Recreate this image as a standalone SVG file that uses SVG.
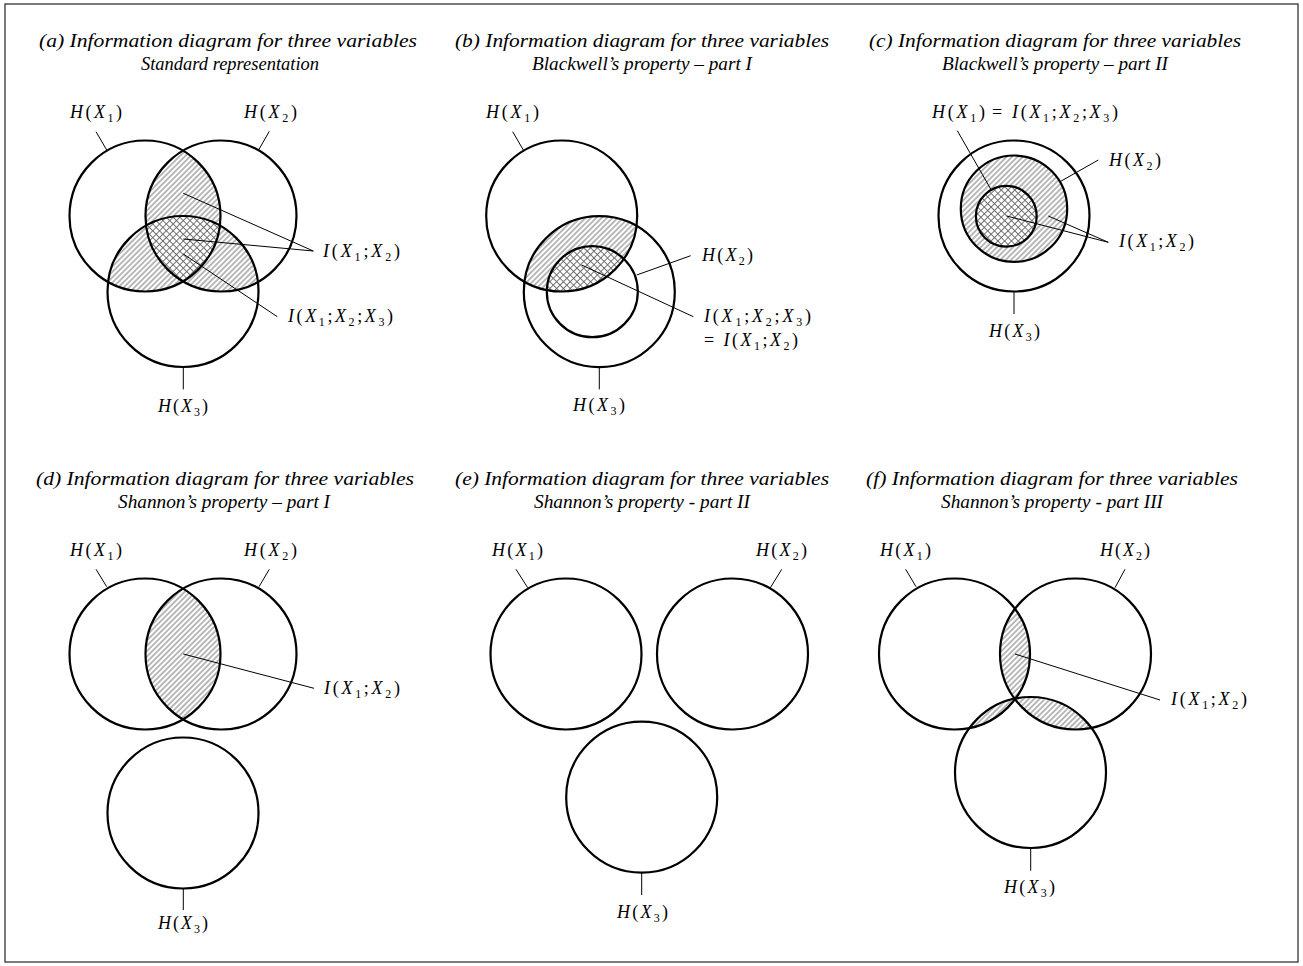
<svg xmlns="http://www.w3.org/2000/svg" width="1303" height="966" viewBox="0 0 1303 966">
<style>
.frame{fill:#fff;stroke:#333;stroke-width:1.3}
.c{fill:none;stroke:#000;stroke-width:2.2}
.h{fill:url(#hatch);stroke:none}
.x{fill:url(#cross);stroke:none}
.t{font-family:"Liberation Serif","Times New Roman",serif;font-style:italic;font-size:19px;fill:#000;text-anchor:middle}
.m{font-family:"Liberation Serif","Times New Roman",serif;font-style:italic;font-size:18px;fill:#000}
.r{font-style:normal}
.s{font-style:normal;font-size:12px}
#leaders line{stroke:#000;stroke-width:1}
</style>
<defs>
<pattern id="hatch" patternUnits="userSpaceOnUse" width="3.8" height="3.8" patternTransform="rotate(45)">
<rect width="3.8" height="3.8" fill="#fff"/>
<line x1="1.9" y1="0" x2="1.9" y2="3.8" stroke="#666" stroke-width="0.9"/>
</pattern>
<pattern id="cross" patternUnits="userSpaceOnUse" width="4.8" height="4.8" patternTransform="rotate(45)">
<rect width="4.8" height="4.8" fill="#fff"/>
<line x1="2.4" y1="0" x2="2.4" y2="4.8" stroke="#666" stroke-width="0.9"/>
<line x1="0" y1="2.4" x2="4.8" y2="2.4" stroke="#666" stroke-width="0.9"/>
</pattern>
<clipPath id="ca1"><circle cx="145" cy="216" r="75.5"/></clipPath>
<clipPath id="ca2"><circle cx="221" cy="216" r="75.5"/></clipPath>
<clipPath id="cb1"><circle cx="561.7" cy="216" r="75.5"/></clipPath>
<clipPath id="cd1"><circle cx="145" cy="654" r="75.5"/></clipPath>
<clipPath id="cf1"><circle cx="954.5" cy="654" r="75.5"/></clipPath>
<clipPath id="cf2"><circle cx="1075.5" cy="654" r="75.5"/></clipPath>
</defs>
<rect class="frame" x="5" y="4" width="1293" height="958"/>

<!-- Titles -->
<g id="titles">
<text class="t" x="228" y="47" textLength="378" lengthAdjust="spacingAndGlyphs">(a) Information diagram for three variables</text>
<text class="t" x="230" y="70" textLength="178" lengthAdjust="spacingAndGlyphs">Standard representation</text>
<text class="t" x="642" y="47" textLength="374" lengthAdjust="spacingAndGlyphs">(b) Information diagram for three variables</text>
<text class="t" x="642" y="70" textLength="220" lengthAdjust="spacingAndGlyphs">Blackwell’s property – part I</text>
<text class="t" x="1055" y="47" textLength="372" lengthAdjust="spacingAndGlyphs">(c) Information diagram for three variables</text>
<text class="t" x="1055" y="70" textLength="226" lengthAdjust="spacingAndGlyphs">Blackwell’s property – part II</text>
<text class="t" x="225" y="485" textLength="378" lengthAdjust="spacingAndGlyphs">(d) Information diagram for three variables</text>
<text class="t" x="224" y="508" textLength="212" lengthAdjust="spacingAndGlyphs">Shannon’s property – part I</text>
<text class="t" x="642" y="485" textLength="374" lengthAdjust="spacingAndGlyphs">(e) Information diagram for three variables</text>
<text class="t" x="642" y="508" textLength="216" lengthAdjust="spacingAndGlyphs">Shannon’s property - part II</text>
<text class="t" x="1052" y="485" textLength="372" lengthAdjust="spacingAndGlyphs">(f) Information diagram for three variables</text>
<text class="t" x="1052" y="508" textLength="222" lengthAdjust="spacingAndGlyphs">Shannon’s property - part III</text>
</g>

<!-- Panel a -->
<g id="panel-a">
<g id="a-shading">
<circle class="h" cx="221" cy="216" r="75.5" clip-path="url(#ca1)"/>
<circle class="h" cx="183" cy="291.5" r="75.5" clip-path="url(#ca1)"/>
<circle class="h" cx="183" cy="291.5" r="75.5" clip-path="url(#ca2)"/>
<g clip-path="url(#ca1)"><circle class="x" cx="183" cy="291.5" r="75.5" clip-path="url(#ca2)"/></g>
</g>
<g id="a-H1"><circle class="c" cx="145" cy="216" r="75.5"/>
<text class="m" x="70" y="118" textLength="52">H<tspan class="r">(</tspan>X<tspan class="s" dy="4">1</tspan><tspan class="r" dy="-4">)</tspan></text></g>
<g id="a-H2"><circle class="c" cx="221" cy="216" r="75.5"/>
<text class="m" x="244" y="118" textLength="53">H<tspan class="r">(</tspan>X<tspan class="s" dy="4">2</tspan><tspan class="r" dy="-4">)</tspan></text></g>
<g id="a-H3"><circle class="c" cx="183" cy="291.5" r="75.5"/>
<text class="m" x="158" y="412" textLength="50">H<tspan class="r">(</tspan>X<tspan class="s" dy="4">3</tspan><tspan class="r" dy="-4">)</tspan></text></g>
<g id="a-I12"><text class="m" x="323" y="257" textLength="77">I<tspan class="r">(</tspan>X<tspan class="s" dy="4">1</tspan><tspan class="r" dy="-4">;</tspan>X<tspan class="s" dy="4">2</tspan><tspan class="r" dy="-4">)</tspan></text></g>
<g id="a-I123"><text class="m" x="288" y="322" textLength="105">I<tspan class="r">(</tspan>X<tspan class="s" dy="4">1</tspan><tspan class="r" dy="-4">;</tspan>X<tspan class="s" dy="4">2</tspan><tspan class="r" dy="-4">;</tspan>X<tspan class="s" dy="4">3</tspan><tspan class="r" dy="-4">)</tspan></text></g>
</g>

<!-- Panel b -->
<g id="panel-b">
<g id="b-shading">
<circle class="h" cx="599.3" cy="291.7" r="75.5" clip-path="url(#cb1)"/>
<circle class="x" cx="592.3" cy="291.7" r="45.5" clip-path="url(#cb1)"/>
</g>
<g id="b-H1"><circle class="c" cx="561.7" cy="216" r="75.5"/>
<text class="m" x="486" y="118" textLength="53">H<tspan class="r">(</tspan>X<tspan class="s" dy="4">1</tspan><tspan class="r" dy="-4">)</tspan></text></g>
<g id="b-H3"><circle class="c" cx="599.3" cy="291.7" r="75.5"/>
<text class="m" x="573" y="411" textLength="52">H<tspan class="r">(</tspan>X<tspan class="s" dy="4">3</tspan><tspan class="r" dy="-4">)</tspan></text></g>
<g id="b-H2"><circle class="c" cx="592.3" cy="291.7" r="45.5"/>
<text class="m" x="702" y="261" textLength="51">H<tspan class="r">(</tspan>X<tspan class="s" dy="4">2</tspan><tspan class="r" dy="-4">)</tspan></text></g>
<g id="b-I"><text class="m" x="704" y="322" textLength="107">I<tspan class="r">(</tspan>X<tspan class="s" dy="4">1</tspan><tspan class="r" dy="-4">;</tspan>X<tspan class="s" dy="4">2</tspan><tspan class="r" dy="-4">;</tspan>X<tspan class="s" dy="4">3</tspan><tspan class="r" dy="-4">)</tspan></text>
<text class="m" x="704" y="346" textLength="94"><tspan class="r">=</tspan> I<tspan class="r">(</tspan>X<tspan class="s" dy="4">1</tspan><tspan class="r" dy="-4">;</tspan>X<tspan class="s" dy="4">2</tspan><tspan class="r" dy="-4">)</tspan></text></g>
</g>

<!-- Panel c -->
<g id="panel-c">
<g id="c-H3"><circle class="c" cx="1014" cy="216" r="75.5"/>
<text class="m" x="989" y="337" textLength="51">H<tspan class="r">(</tspan>X<tspan class="s" dy="4">3</tspan><tspan class="r" dy="-4">)</tspan></text></g>
<g id="c-H2"><circle class="h" cx="1014" cy="208.7" r="53.2"/><circle class="c" cx="1014" cy="208.7" r="53.2"/>
<text class="m" x="1109" y="166" textLength="52">H<tspan class="r">(</tspan>X<tspan class="s" dy="4">2</tspan><tspan class="r" dy="-4">)</tspan></text></g>
<g id="c-H1"><circle class="x" cx="1006.3" cy="216.2" r="30.4"/><circle class="c" cx="1006.3" cy="216.2" r="30.4"/>
<text class="m" x="932" y="118" textLength="53">H<tspan class="r">(</tspan>X<tspan class="s" dy="4">1</tspan><tspan class="r" dy="-4">)</tspan></text>
<text class="m" x="992" y="118" textLength="126"><tspan class="r">=</tspan> I<tspan class="r">(</tspan>X<tspan class="s" dy="4">1</tspan><tspan class="r" dy="-4">;</tspan>X<tspan class="s" dy="4">2</tspan><tspan class="r" dy="-4">;</tspan>X<tspan class="s" dy="4">3</tspan><tspan class="r" dy="-4">)</tspan></text></g>
<g id="c-I12"><text class="m" x="1119" y="247" textLength="75">I<tspan class="r">(</tspan>X<tspan class="s" dy="4">1</tspan><tspan class="r" dy="-4">;</tspan>X<tspan class="s" dy="4">2</tspan><tspan class="r" dy="-4">)</tspan></text></g>
</g>

<!-- Panel d -->
<g id="panel-d">
<g id="d-shading"><circle class="h" cx="221" cy="654" r="75.5" clip-path="url(#cd1)"/></g>
<g id="d-H1"><circle class="c" cx="145" cy="654" r="75.5"/>
<text class="m" x="70" y="556" textLength="52">H<tspan class="r">(</tspan>X<tspan class="s" dy="4">1</tspan><tspan class="r" dy="-4">)</tspan></text></g>
<g id="d-H2"><circle class="c" cx="221" cy="654" r="75.5"/>
<text class="m" x="244" y="556" textLength="53">H<tspan class="r">(</tspan>X<tspan class="s" dy="4">2</tspan><tspan class="r" dy="-4">)</tspan></text></g>
<g id="d-H3"><circle class="c" cx="183" cy="813" r="75.5"/>
<text class="m" x="158" y="929" textLength="50">H<tspan class="r">(</tspan>X<tspan class="s" dy="4">3</tspan><tspan class="r" dy="-4">)</tspan></text></g>
<g id="d-I12"><text class="m" x="324" y="694" textLength="76">I<tspan class="r">(</tspan>X<tspan class="s" dy="4">1</tspan><tspan class="r" dy="-4">;</tspan>X<tspan class="s" dy="4">2</tspan><tspan class="r" dy="-4">)</tspan></text></g>
</g>

<!-- Panel e -->
<g id="panel-e">
<g id="e-H1"><circle class="c" cx="566" cy="654" r="75.5"/>
<text class="m" x="492" y="556" textLength="51">H<tspan class="r">(</tspan>X<tspan class="s" dy="4">1</tspan><tspan class="r" dy="-4">)</tspan></text></g>
<g id="e-H2"><circle class="c" cx="732.5" cy="654" r="75.5"/>
<text class="m" x="756" y="556" textLength="51">H<tspan class="r">(</tspan>X<tspan class="s" dy="4">2</tspan><tspan class="r" dy="-4">)</tspan></text></g>
<g id="e-H3"><circle class="c" cx="641.7" cy="797.2" r="75.5"/>
<text class="m" x="617" y="918" textLength="51">H<tspan class="r">(</tspan>X<tspan class="s" dy="4">3</tspan><tspan class="r" dy="-4">)</tspan></text></g>
</g>

<!-- Panel f -->
<g id="panel-f">
<g id="f-shading">
<circle class="h" cx="1075.5" cy="654" r="75.5" clip-path="url(#cf1)"/>
<circle class="h" cx="1030.5" cy="772.5" r="75.5" clip-path="url(#cf1)"/>
<circle class="h" cx="1030.5" cy="772.5" r="75.5" clip-path="url(#cf2)"/>
</g>
<g id="f-H1"><circle class="c" cx="954.5" cy="654" r="75.5"/>
<text class="m" x="880" y="556" textLength="51">H<tspan class="r">(</tspan>X<tspan class="s" dy="4">1</tspan><tspan class="r" dy="-4">)</tspan></text></g>
<g id="f-H2"><circle class="c" cx="1075.5" cy="654" r="75.5"/>
<text class="m" x="1100" y="556" textLength="50">H<tspan class="r">(</tspan>X<tspan class="s" dy="4">2</tspan><tspan class="r" dy="-4">)</tspan></text></g>
<g id="f-H3"><circle class="c" cx="1030.5" cy="772.5" r="75.5"/>
<text class="m" x="1004" y="893" textLength="51">H<tspan class="r">(</tspan>X<tspan class="s" dy="4">3</tspan><tspan class="r" dy="-4">)</tspan></text></g>
<g id="f-I12"><text class="m" x="1171" y="705" textLength="76">I<tspan class="r">(</tspan>X<tspan class="s" dy="4">1</tspan><tspan class="r" dy="-4">;</tspan>X<tspan class="s" dy="4">2</tspan><tspan class="r" dy="-4">)</tspan></text></g>
</g>

<!-- Leader lines -->
<g id="leaders">
<line x1="96" y1="131.7" x2="106.7" y2="150"/>
<line x1="269.3" y1="131.3" x2="259" y2="149.3"/>
<line x1="183.3" y1="193.3" x2="313.3" y2="251"/>
<line x1="183.3" y1="239" x2="313.3" y2="251"/>
<line x1="183.3" y1="254" x2="277.3" y2="316.7"/>
<line x1="183.3" y1="367" x2="183.3" y2="389.3"/>

<line x1="512.7" y1="131.7" x2="523.3" y2="150"/>
<line x1="636.7" y1="275" x2="690.7" y2="255.7"/>
<line x1="581.7" y1="265" x2="693.3" y2="316.7"/>
<line x1="599.3" y1="367" x2="599.3" y2="389.3"/>

<line x1="957.3" y1="130.7" x2="990.7" y2="189"/>
<line x1="1060" y1="181.7" x2="1098.3" y2="160"/>
<line x1="1006.7" y1="216" x2="1108.3" y2="242.3"/>
<line x1="1048.3" y1="216" x2="1108.3" y2="242.3"/>
<line x1="1014" y1="291.5" x2="1014" y2="314"/>

<line x1="96" y1="569.3" x2="106.7" y2="586.7"/>
<line x1="269.3" y1="569.3" x2="259" y2="586.7"/>
<line x1="183.3" y1="654" x2="314" y2="688.3"/>
<line x1="183.3" y1="888.3" x2="183.3" y2="910"/>

<line x1="516" y1="569.3" x2="527.7" y2="587.7"/>
<line x1="781.7" y1="569.3" x2="770" y2="588.3"/>
<line x1="641.7" y1="872.7" x2="641.7" y2="895"/>

<line x1="905.7" y1="569.3" x2="916" y2="586.7"/>
<line x1="1125" y1="569.3" x2="1115" y2="587.7"/>
<line x1="1015" y1="654" x2="1160" y2="700"/>
<line x1="1030.7" y1="848" x2="1030.7" y2="870.7"/>
</g>
</svg>
